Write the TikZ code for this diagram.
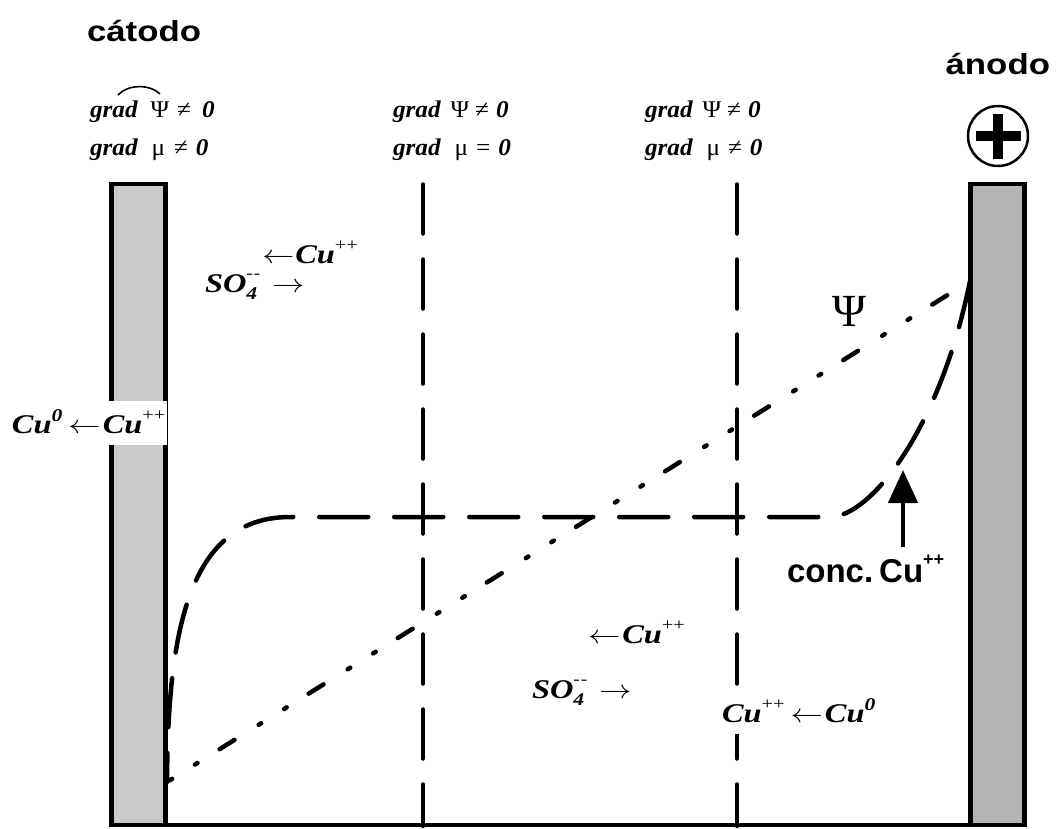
\documentclass[tikz,border=0pt]{standalone}
\usepackage{fontspec}
\usepackage{graphicx}
\usetikzlibrary{arrows.meta}
\newfontfamily\serifS{Liberation Serif}[FakeStretch=1.2]
\newfontfamily\serifG{Liberation Serif}[FakeStretch=1.05]
\newfontfamily\serifN{Liberation Serif}
\newfontfamily\sansS{Liberation Sans}[FakeStretch=1.2]
\newfontfamily\sansN{Liberation Sans}
\definecolor{elecA}{HTML}{C9C9CB}
\definecolor{elecB}{HTML}{B4B4B4}
\newcommand\bi[1]{{\bfseries\itshape #1}}
\newcommand\plusplus{\raisebox{0.45em}{\fontsize{17}{17}\selectfont ++}}
\newcommand\zsup{\raisebox{0.42em}{\fontsize{18}{18}\selectfont\bfseries\itshape 0}}
\newcommand\sofour{{\bfseries\itshape SO}\rlap{\raisebox{-0.28em}{\fontsize{18}{18}\selectfont\bfseries\itshape 4}}\raisebox{0.5em}{\fontsize{16}{16}\selectfont -\kern1pt-}}
\newcommand\larr{\scalebox{1.3}[1.05]{$\leftarrow$}}
\newcommand\rarr{\scalebox{1.3}[1.05]{$\rightarrow$}}
\begin{document}
\begin{tikzpicture}[x=1pt,y=-1pt,
  every node/.style={inner sep=0pt, outer sep=0pt},
  gradlbl/.style={anchor=base west, font=\serifG\fontsize{24}{27}\selectfont},
  ionlbl/.style={anchor=base west, font=\serifS\fontsize{27}{30}\selectfont},
  masklbl/.style={ionlbl, fill=white, inner sep=2pt, text height=30pt, text depth=10pt},
  elecsans/.style={font=\sansS\bfseries\fontsize{29}{32}\selectfont},
  electrode/.style={line width=4.5pt},
  divider/.style={line width=4.5pt, line cap=round, dash pattern=on 49pt off 26pt},
  conccurve/.style={line width=4.5pt, line cap=round, dash pattern=on 49pt off 26pt, dash phase=20pt},
  psicurve/.style={line width=4.5pt, line cap=round, dash pattern=on 17.5pt off 28.5pt on 3pt off 27pt on 3pt off 26pt, dash phase=43pt},
  concarrow/.style={line width=4.5pt, -{Triangle[length=33pt,width=29pt]}},
]
\useasboundingbox (0,0) rectangle (1057,828);
% electrodes
\fill[elecA] (111.5,184) rectangle (165.5,825);
\fill[elecB] (970.5,184) rectangle (1024.5,825);
\draw[electrode] (111.5,825) -- (111.5,184) -- (165.5,184) -- (165.5,825);
\draw[electrode] (970.5,825) -- (970.5,184) -- (1024.5,184) -- (1024.5,825);
\draw[electrode] (109.25,825) -- (1026.75,825);
% dividers
\draw[divider] (423,184.5) -- (423,826);
\draw[divider] (737,184.5) -- (737,826);
% curves
\draw[conccurve] (167,782) .. controls (168,640) and (185,517) .. (290,517) -- (830,517) .. controls (870,517) and (940,430) .. (970,281);
\draw[psicurve] (167,782) -- (970,281);
% titles
\node[elecsans, anchor=base west] (cat) at (87,41) {cátodo};
\node[elecsans, anchor=base east] (an) at (1050,74) {ánodo};
% plus sign
\node[draw, circle, line width=2.5pt, minimum size=60pt] (plus) at (998,136) {};
\draw[line width=10.5pt] (plus.center) ++(-22.5,0) -- ++(45,0);
\draw[line width=10.5pt] (plus.center) ++(0,-22.5) -- ++(0,45);
% grad labels
\node[gradlbl] (g1a) at (90,117) {\bi{grad}\hspace{13pt}Ψ\hspace{8pt}≠\hspace{11pt}\bi{0}};
\node[gradlbl] (g1b) at (90,155) {\bi{grad}\hspace{14pt}μ\hspace{9pt}≠\hspace{8pt}\bi{0}};
\draw[line width=1.6pt] (118,95) .. controls (128,84) and (150,84) .. (160,94);
\node[gradlbl] (g2a) at (393,117) {\bi{grad}\hspace{10pt}Ψ\hspace{6pt}≠\hspace{7pt}\bi{0}};
\node[gradlbl] (g2b) at (393,155) {\bi{grad}\hspace{14pt}μ\hspace{8pt}=\hspace{8pt}\bi{0}};
\node[gradlbl] (g3a) at (645,117) {\bi{grad}\hspace{10pt}Ψ\hspace{6pt}≠\hspace{7pt}\bi{0}};
\node[gradlbl] (g3b) at (645,155) {\bi{grad}\hspace{14pt}μ\hspace{8pt}≠\hspace{8pt}\bi{0}};
% Psi label
\node[font=\serifN\fontsize{46}{48}\selectfont] (psi) at (849.5,311.5) {Ψ};
% ion labels
\node[ionlbl] (ia1) at (262,263) {\larr\hspace{1pt}\bi{Cu}\plusplus};
\node[ionlbl] (ia2) at (205,292) {\sofour\hspace{12pt}\rarr};
\node[ionlbl] (ib1) at (588,643) {\larr\hspace{2pt}\bi{Cu}\plusplus};
\node[ionlbl] (ib2) at (532,698) {\sofour\hspace{12pt}\rarr};
\node[masklbl] (cl) at (10,433) {\bi{Cu}\zsup\hspace{6pt}\larr\hspace{2pt}\bi{Cu}\plusplus};
\node[masklbl] (cr) at (720,722) {\bi{Cu}\plusplus\hspace{6pt}\larr\hspace{2pt}\bi{Cu}\zsup};
% concentration label and arrow
\node[anchor=base west, font=\sansN\bfseries\fontsize{33}{36}\selectfont] (conc) at (787,582) {conc.\hspace{6pt}Cu\raisebox{0.5em}{\fontsize{18}{18}\selectfont ++}};
\coordinate (arrtail) at (903,547);
\coordinate (arrtip) at (903,470);
\draw[concarrow] (arrtail) -- (arrtip);
\end{tikzpicture}
\end{document}
